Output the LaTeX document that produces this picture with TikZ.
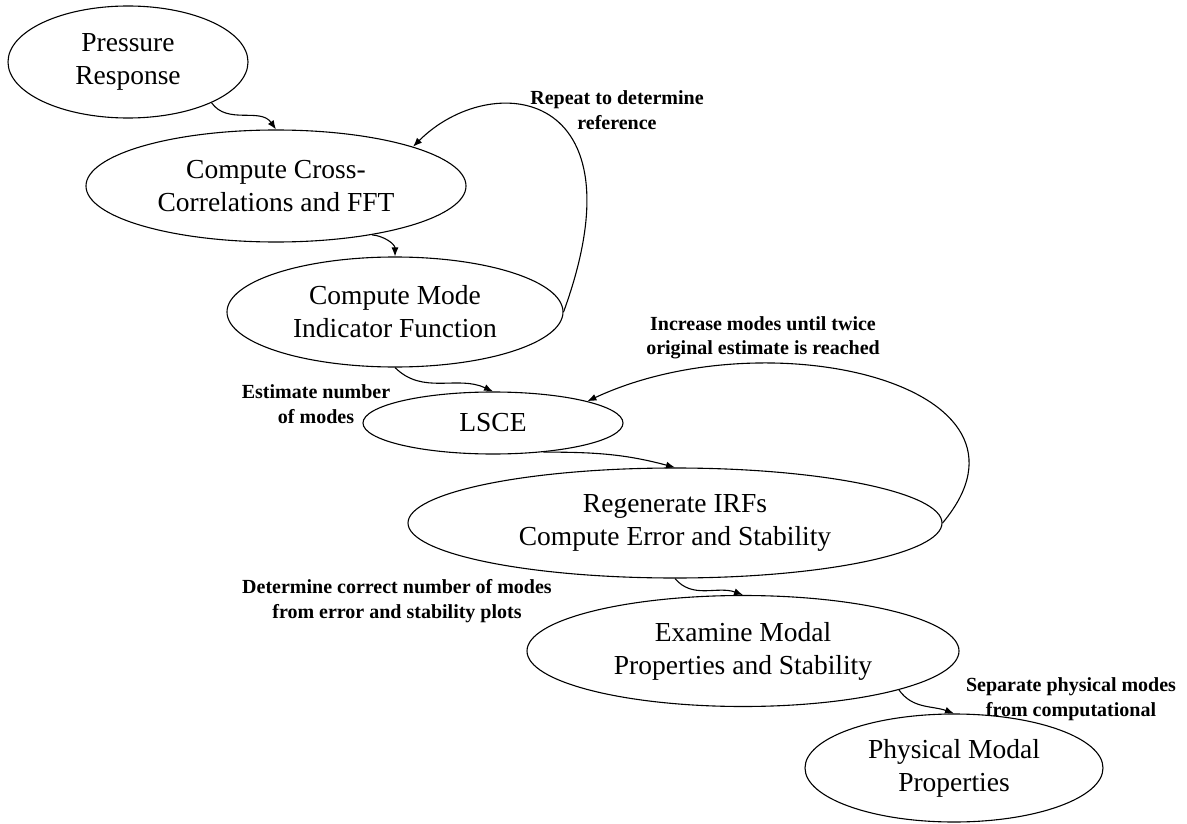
\documentclass[tikz,border=0pt]{standalone}
\usepackage{fontspec}
\setmainfont{Liberation Serif}
\usetikzlibrary{shapes.geometric,arrows.meta}
\begin{document}
\begin{tikzpicture}[x=1pt,y=1pt,
  stage/.style={draw,ellipse,line width=1.1pt,inner sep=0pt,align=center,
    font=\fontsize{27.5}{33}\selectfont},
  note/.style={align=center,font=\fontsize{20}{24.5}\selectfont\bfseries},
  flow/.style={-{Latex[length=9pt,width=7pt]},line width=1.1pt}]
\useasboundingbox (0,0) rectangle (1187,-824);
% processing stages
\node[stage,minimum width=240pt,minimum height=112pt] (press) at (128,-62) {Pressure\\Response};
\node[stage,minimum width=380pt,minimum height=112pt] (cross) at (276,-186) {Compute Cross-\\Correlations and FFT};
\node[stage,minimum width=336pt,minimum height=110pt] (mode) at (395,-312) {Compute Mode\\Indicator Function};
\node[stage,minimum width=260pt,minimum height=62pt] (lsce) at (493,-423) {LSCE};
\node[stage,minimum width=534pt,minimum height=110pt] (regen) at (675,-523) {Regenerate IRFs\\Compute Error and Stability};
\node[stage,minimum width=432pt,minimum height=111pt] (exam) at (743,-651) {Examine Modal\\Properties and Stability};
\node[stage,minimum width=298pt,minimum height=108pt] (phys) at (954,-768) {Physical Modal\\Properties};
% notes
\node[note] (repeat) at (617,-110) {Repeat to determine\\reference};
\node[note] (more) at (763,-338) {Increase modes until twice\\original estimate is reached};
\node[note] (guess) at (316,-404) {Estimate number\\of modes};
\node[note] (pick) at (397,-601) {Determine correct number of modes\\from error and stability plots};
\node[note] (split) at (1071,-699) {Separate physical modes\\from computational};
% main flow
\foreach \a/\b/\o/\i in {press.-26/cross.north/-55/125,
                         cross.-27/mode.north/-5/90,
                         mode.south/lsce.north/-45/155,
                         lsce.-30/regen.north/0/165,
                         regen.south/exam.north/-50/160,
                         exam.-14/phys.north/-55/160} {
  \draw[flow] (\a) to[out=\o,in=\i] (\b);
}
% loops back
\draw[flow] (mode.east) to[out=70,in=45,out distance=240pt,in distance=110pt] (cross.16);
\draw[flow] (regen.east) to[out=50,in=25,out distance=180pt,in distance=200pt] (lsce.13);
\end{tikzpicture}
\end{document}
